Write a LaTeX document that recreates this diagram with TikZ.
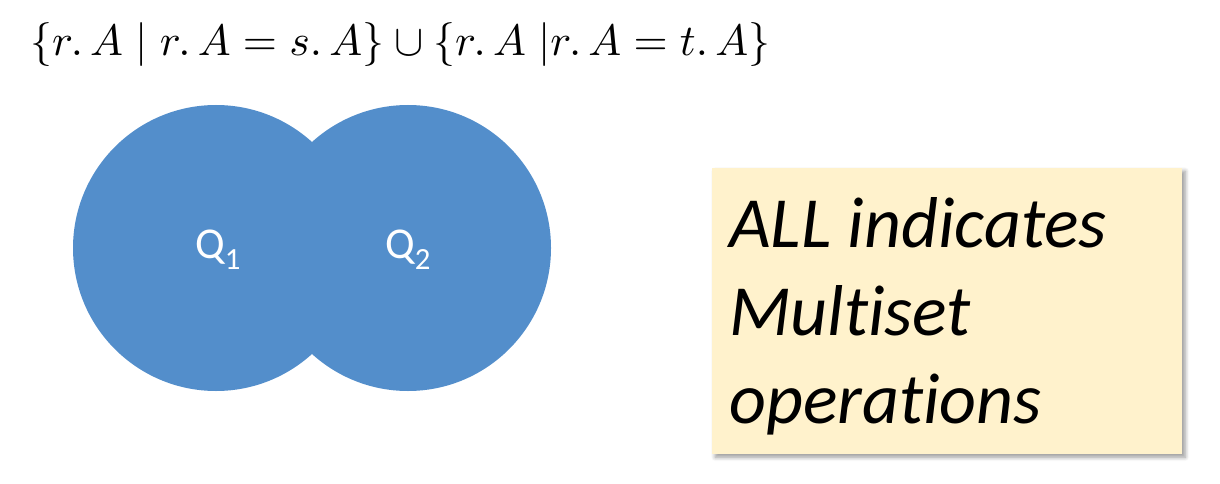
\documentclass[tikz,border=0pt]{standalone}
\usepackage{fontspec}
\usepackage{amsmath}
\setmainfont[Ligatures=NoCommon]{Carlito}
\usetikzlibrary{shadows.blur}
\definecolor{qblue}{RGB}{83,142,203}
\definecolor{noteyellow}{RGB}{255,242,204}
\begin{document}
\begin{tikzpicture}[x=1pt,y=-1pt,
  qlabel/.style={text=white,font=\fontsize{44}{52}\selectfont},
  note/.style={fill=noteyellow,minimum width=470pt,minimum height=286pt,anchor=north west,
     blur shadow={shadow xshift=3pt,shadow yshift=-3pt,shadow blur steps=6,shadow blur radius=4pt,shadow opacity=40}}]
\useasboundingbox (0,0) rectangle (1220,484);
% circles
\fill[qblue] (216,248) circle (143);
\fill[qblue] (408,248) circle (143);
\node[qlabel] (q1) at (218,250) {Q\textsubscript{1}};
\node[qlabel] (q2) at (408,250) {Q\textsubscript{2}};
% formula
\node[anchor=west,inner sep=0] (f) at (30,45) {\resizebox{740pt}{!}{$\{r.\,A \mid r.\,A = s.\,A\} \cup \{r.\,A\;|r.\,A = t.\,A\}$}};
% note box
\node[note] (box) at (712,168) {};
\node[anchor=north west,align=left,inner sep=0,font=\fontsize{72}{88}\selectfont\itshape] (txt) at (729,197)
  {ALL indicates\\Multiset\\operations};
\end{tikzpicture}
\end{document}
